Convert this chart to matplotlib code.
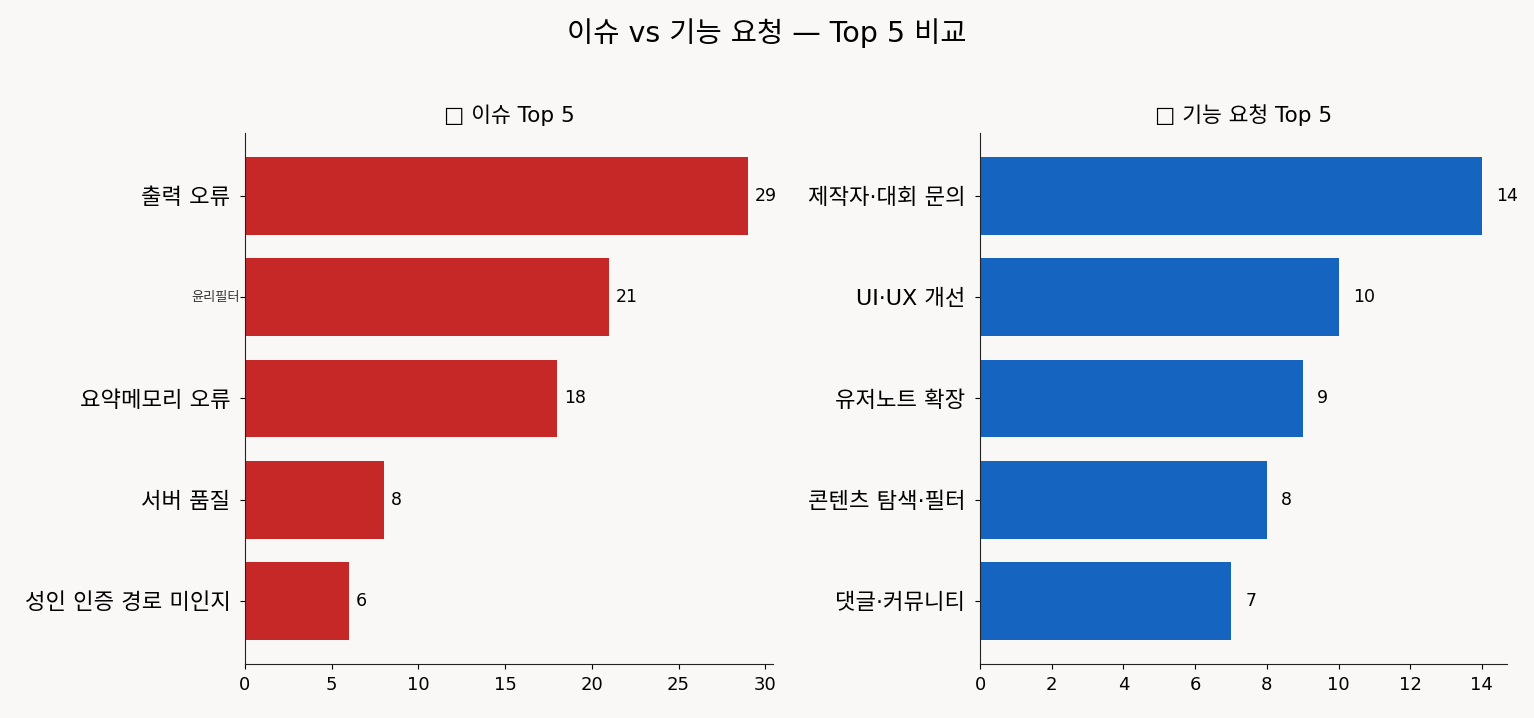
import matplotlib.pyplot as plt
from matplotlib.transforms import blended_transform_factory

plt.rcParams['font.family'] = ['DejaVu Sans', 'Noto Sans CJK KR']

issue_labels = ["출력 오류", "윤리필터", "요약메모리 오류", "서버 품질", "성인 인증 경로 미인지"]
issue_counts = [29, 21, 18, 8, 6]

feature_labels = ["제작자·대회 문의", "UI·UX 개선", "유저노트 확장", "콘텐츠 탐색·필터", "댓글·커뮤니티"]
feature_counts = [14, 10, 9, 8, 7]

bg = "#f9f8f6"
fig = plt.figure(figsize=(15.34, 7.18), dpi=100, facecolor=bg)
ax1 = fig.add_axes([0.1597, 0.075, 0.3443, 0.740])
ax2 = fig.add_axes([0.6389, 0.075, 0.3435, 0.740])

panels = [
    (ax1, issue_labels, issue_counts, "#c62828", "□ 이슈 Top 5"),
    (ax2, feature_labels, feature_counts, "#1565c0", "□ 기능 요청 Top 5"),
]

for ax, labels, counts, color, title in panels:
    ax.set_facecolor(bg)
    y = list(range(len(labels)))[::-1]
    ax.barh(y, counts, height=0.77, color=color)
    ax.set_yticks(y)
    ax.set_yticklabels(labels, fontsize=16)
    ax.set_xlim(0, max(counts) * 1.05)
    for yi, c in zip(y, counts):
        ax.text(c + 0.4, yi, str(c), va="center", ha="left", fontsize=12.5)
    ax.set_title(title, fontsize=15.5, pad=8)
    ax.tick_params(axis="x", labelsize=13, pad=5)
    ax.tick_params(axis="y", pad=7)
    ax.spines["top"].set_visible(False)
    ax.spines["right"].set_visible(False)
    for s in ("left", "bottom"):
        ax.spines[s].set_color("#222222")

# '윤리필터' 라벨은 작게, 축에 더 가깝게
ylabels = issue_labels.copy()
small = ylabels[1]
ylabels[1] = ""
ax1.set_yticklabels(ylabels, fontsize=16)
trans = blended_transform_factory(ax1.transAxes, ax1.transData)
ax1.text(-0.009, len(issue_labels) - 2, small, transform=trans, ha="right", va="center",
         fontsize=9.5, color="#333333")

fig.suptitle("이슈 vs 기능 요청 — Top 5 비교", fontsize=20.5, y=0.975)

fig.savefig("out.png", dpi=100, facecolor=bg)
